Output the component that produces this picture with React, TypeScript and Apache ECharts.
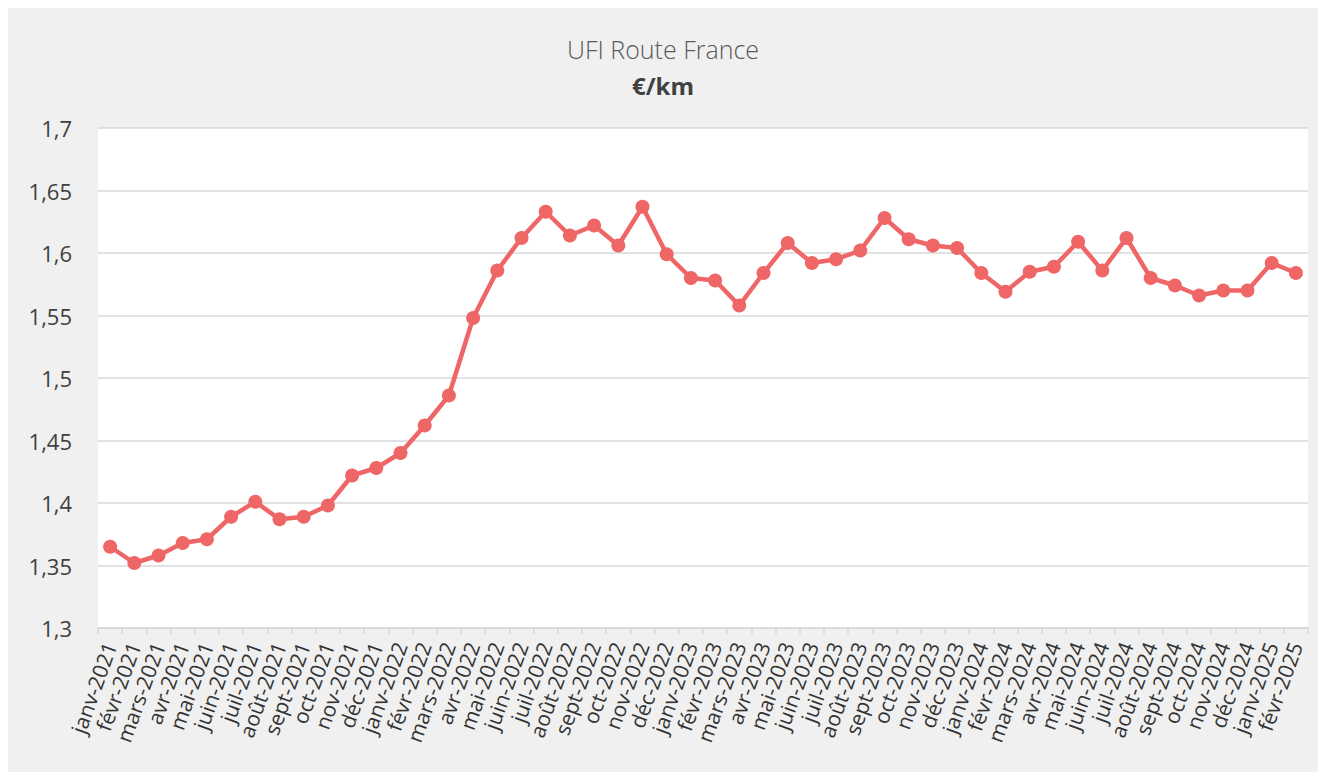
import React, { useEffect, useRef } from "react";
import * as echarts from "echarts";

const categories: string[] = [
  "janv-2021", "févr-2021", "mars-2021", "avr-2021", "mai-2021", "juin-2021",
  "juil-2021", "août-2021", "sept-2021", "oct-2021", "nov-2021", "déc-2021",
  "janv-2022", "févr-2022", "mars-2022", "avr-2022", "mai-2022", "juin-2022",
  "juil-2022", "août-2022", "sept-2022", "oct-2022", "nov-2022", "déc-2022",
  "janv-2023", "févr-2023", "mars-2023", "avr-2023", "mai-2023", "juin-2023",
  "juil-2023", "août-2023", "sept-2023", "oct-2023", "nov-2023", "déc-2023",
  "janv-2024", "févr-2024", "mars-2024", "avr-2024", "mai-2024", "juin-2024",
  "juil-2024", "août-2024", "sept-2024", "oct-2024", "nov-2024", "déc-2024",
  "janv-2025", "févr-2025",
];

const ufiValues: number[] = [
  1.365, 1.352, 1.358, 1.368, 1.371, 1.389,
  1.401, 1.387, 1.389, 1.398, 1.422, 1.428,
  1.44, 1.462, 1.486, 1.548, 1.586, 1.612,
  1.633, 1.614, 1.622, 1.606, 1.637, 1.599,
  1.58, 1.578, 1.558, 1.584, 1.608, 1.592,
  1.595, 1.602, 1.628, 1.611, 1.606, 1.604,
  1.584, 1.569, 1.585, 1.589, 1.609, 1.586,
  1.612, 1.58, 1.574, 1.566, 1.57, 1.57,
  1.592, 1.584,
];

const titleText = "UFI Route France";
const subtitleText = "€/km";

export default function App() {
  const ref = useRef<HTMLDivElement>(null);
  useEffect(() => {
    if (!ref.current) return;
    const chart = echarts.init(ref.current, undefined, { renderer: "svg" });
    chart.setOption({
      animation: false,
      backgroundColor: "#eff0ef",
      textStyle: { fontFamily: "Open Sans" },
      title: [
        {
          text: titleText,
          left: "center",
          top: 24,
          textStyle: { fontFamily: "Open Sans", fontWeight: 300, fontSize: 25, lineHeight: 24, color: "#595959" },
        },
        {
          text: subtitleText,
          left: "center",
          top: 60,
          textStyle: { fontFamily: "Open Sans", fontWeight: "bold", fontSize: 24, lineHeight: 24, color: "#404040" },
        },
      ],
      grid: {
        left: 90,
        right: 10,
        top: 120,
        bottom: 144,
        show: true,
        backgroundColor: "#ffffff",
        borderWidth: 0,
      },
      xAxis: {
        type: "category",
        data: categories,
        boundaryGap: true,
        axisLine: { show: true, lineStyle: { color: "#d9d9d9", width: 2 } },
        axisTick: { show: true, interval: 0, length: 6, lineStyle: { color: "#d9d9d9", width: 1.5 } },
        axisLabel: {
          interval: 0,
          rotate: 70,
          fontSize: 21,
          color: "#333333",
          fontFamily: "Open Sans",
          margin: 15,
        },
        splitLine: { show: false },
      },
      yAxis: {
        type: "value",
        min: 1.3,
        max: 1.7,
        interval: 0.05,
        axisLine: { show: false },
        axisTick: { show: false },
        axisLabel: {
          fontSize: 22,
          color: "#404040",
          fontFamily: "Open Sans",
          margin: 26,
          formatter: (v: number) => String(Math.round(v * 100) / 100).replace(".", ","),
        },
        splitLine: { lineStyle: { color: "#d9d9d9", width: 1.5 } },
      },
      series: [
        {
          type: "line",
          data: ufiValues,
          symbol: "circle",
          symbolSize: 14,
          itemStyle: { color: "#ef6667" },
          lineStyle: { color: "#ef6667", width: 4.5 },
        },
      ],
    });
    return () => chart.dispose();
  }, []);
  return <div ref={ref} style={{ width: 1310, height: 764 }} />;
}
